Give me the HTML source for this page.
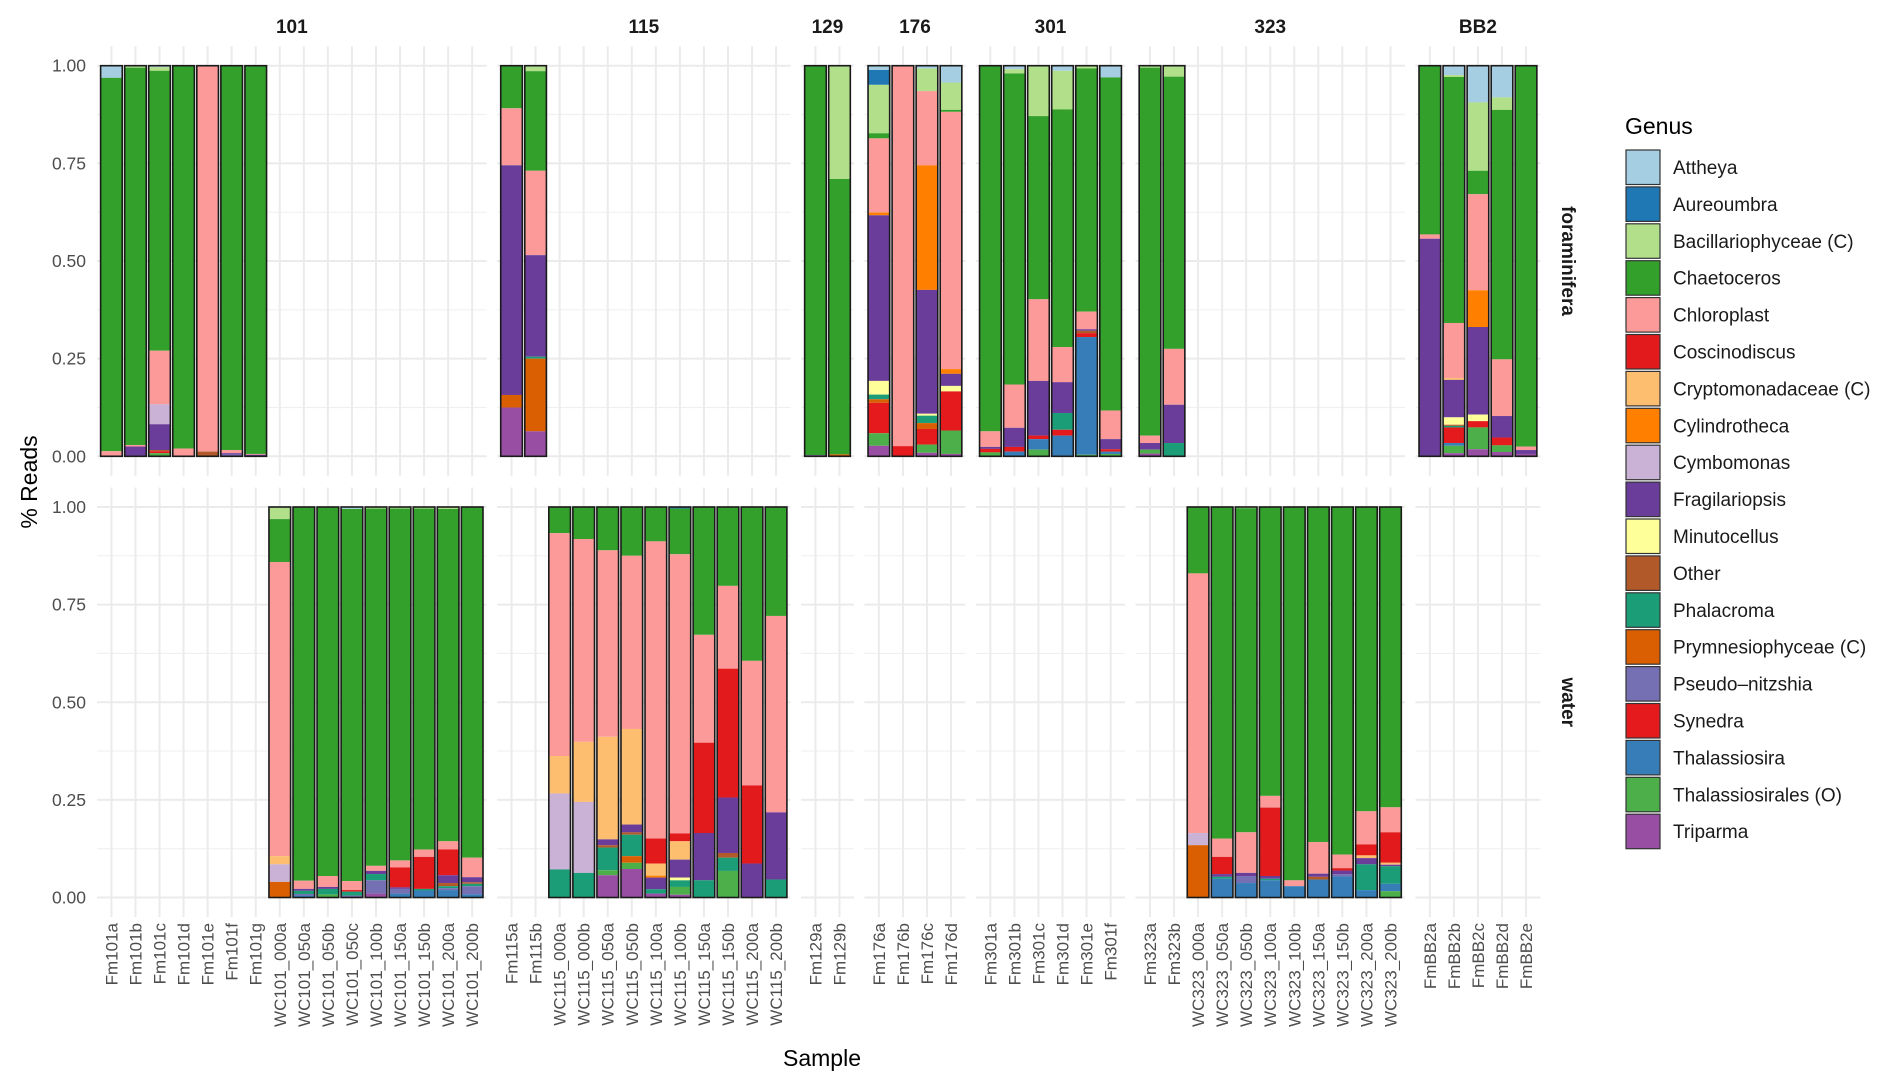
<!DOCTYPE html>
<html><head><meta charset="utf-8"><style>
html,body{margin:0;padding:0;background:#fff;}
svg{display:block;font-family:"Liberation Sans",Arial,sans-serif;}
</style></head>
<body>
<svg id="chart" width="1892" height="1089" xmlns="http://www.w3.org/2000/svg">
<g id="grid"></g>
<g id="bars"></g>
<g id="axes"></g>
<text x="822" y="1066" font-size="23" text-anchor="middle" fill="#000">Sample</text>
<text transform="translate(37,482) rotate(-90)" font-size="23" text-anchor="middle" fill="#000">% Reads</text>
<text x="1625" y="134" font-size="23" fill="#000">Genus</text>
<g id="legend"></g>
</svg>
<script>
const genusNames = ["Attheya","Aureoumbra","Bacillariophyceae (C)","Chaetoceros","Chloroplast","Coscinodiscus","Cryptomonadaceae (C)","Cylindrotheca","Cymbomonas","Fragilariopsis","Minutocellus","Other","Phalacroma","Prymnesiophyceae (C)","Pseudo\u2013nitzshia","Synedra","Thalassiosira","Thalassiosirales (O)","Triparma"];
const genusCodes = ["At","Au","Ba","Ch","Cl","Co","Cr","Cy","Cm","Fr","Mi","Ot","Ph","Pr","Ps","Sy","Th","Ts","Tr"];
const genusColors = ["#a6cee3","#1f78b4","#b2df8a","#33a02c","#fb9a99","#e31a1c","#fdbf6f","#ff7f00","#cab2d6","#6a3d9a","#ffff99","#b15928","#1b9e77","#d95f02","#7570b3","#e41a1c","#377eb8","#4daf4a","#984ea3"];

const panels = ["101","115","129","176","301","323","BB2"];
const panelSamples = [
 ["Fm101a","Fm101b","Fm101c","Fm101d","Fm101e","Fm101f","Fm101g","WC101_000a","WC101_050a","WC101_050b","WC101_050c","WC101_100b","WC101_150a","WC101_150b","WC101_200a","WC101_200b"],
 ["Fm115a","Fm115b","WC115_000a","WC115_000b","WC115_050a","WC115_050b","WC115_100a","WC115_100b","WC115_150a","WC115_150b","WC115_200a","WC115_200b"],
 ["Fm129a","Fm129b"],
 ["Fm176a","Fm176b","Fm176c","Fm176d"],
 ["Fm301a","Fm301b","Fm301c","Fm301d","Fm301e","Fm301f"],
 ["Fm323a","Fm323b","WC323_000a","WC323_050a","WC323_050b","WC323_100a","WC323_100b","WC323_150a","WC323_150b","WC323_200a","WC323_200b"],
 ["FmBB2a","FmBB2b","FmBB2c","FmBB2d","FmBB2e"]
];
const rows = ["foraminifera","water"];
const yTicks = [0,0.25,0.5,0.75,1];
const yTickLabels = ["0.00","0.25","0.50","0.75","1.00"];

// composition per sample: [genusCode, fraction]
const comp = {
 Fm101a:[["At",.031],["Ch",.956],["Cl",.013]],
 Fm101b:[["Ba",.005],["Ch",.966],["Cl",.004],["Fr",.025]],
 Fm101c:[["At",.004],["Ba",.009],["Ch",.716],["Cl",.137],["Cm",.051],["Fr",.066],["Ot",.003],["Sy",.005],["Ts",.008]],
 Fm101d:[["Ch",.98],["Cl",.02]],
 Fm101e:[["Cl",.988],["Ot",.012]],
 Fm101f:[["Ch",.984],["Cl",.008],["Fr",.004],["Ps",.004]],
 Fm101g:[["Ch",.994],["Cl",.002],["Fr",.004]],
 WC101_000a:[["Ba",.031],["Ch",.11],["Cl",.754],["Cr",.021],["Cm",.045],["Pr",.04]],
 WC101_050a:[["Ch",.957],["Cl",.021],["Fr",.005],["Ph",.008],["Ps",.004],["Th",.005]],
 WC101_050b:[["Ch",.945],["Cl",.028],["Fr",.005],["Ph",.014],["Ts",.008]],
 WC101_050c:[["At",.005],["Ch",.953],["Cl",.023],["Co",.004],["Ph",.01],["Ps",.005]],
 WC101_100b:[["Ba",.004],["Ch",.914],["Cl",.013],["Fr",.008],["Ph",.016],["Ps",.034],["Tr",.01]],
 WC101_150a:[["Ba",.004],["Ch",.901],["Cl",.018],["Co",.051],["Fr",.004],["Ps",.012],["Th",.01]],
 WC101_150b:[["Ba",.004],["Ch",.873],["Cl",.019],["Co",.082],["Ph",.004],["Th",.018]],
 WC101_200a:[["Ba",.005],["Ch",.851],["Cl",.021],["Co",.066],["Fr",.02],["Ot",.008],["Ph",.005],["Ps",.005],["Th",.019]],
 WC101_200b:[["Ch",.898],["Cl",.05],["Fr",.013],["Ot",.004],["Ph",.006],["Ps",.021],["Th",.008]],
 Fm115a:[["Ch",.109],["Cl",.146],["Fr",.588],["Pr",.032],["Tr",.125]],
 Fm115b:[["Ba",.014],["Ch",.255],["Cl",.216],["Fr",.26],["Ph",.005],["Pr",.186],["Tr",.064]],
 WC115_000a:[["Ch",.067],["Cl",.572],["Cr",.096],["Cm",.195],["Ph",.072]],
 WC115_000b:[["Ch",.082],["Cl",.52],["Cr",.154],["Cm",.182],["Ph",.063]],
 WC115_050a:[["Ch",.111],["Cl",.478],["Cr",.263],["Fr",.015],["Ot",.006],["Ph",.058],["Ts",.013],["Tr",.057]],
 WC115_050b:[["Ch",.125],["Cl",.444],["Cr",.245],["Fr",.02],["Ot",.006],["Ph",.055],["Pr",.017],["Ts",.016],["Tr",.073]],
 WC115_100a:[["Ch",.088],["Cl",.761],["Co",.064],["Cr",.031],["Cy",.005],["Fr",.03],["Ph",.011],["Tr",.01]],
 WC115_100b:[["Au",.004],["Ch",.117],["Cl",.715],["Co",.02],["Cr",.047],["Fr",.046],["Mi",.007],["Ph",.017],["Ts",.02],["Tr",.007]],
 WC115_150a:[["Ch",.327],["Cl",.276],["Co",.231],["Fr",.121],["Ph",.044]],
 WC115_150b:[["Ch",.202],["Cl",.212],["Co",.33],["Fr",.142],["Ot",.012],["Ph",.034],["Ts",.068]],
 WC115_200a:[["Ch",.394],["Cl",.319],["Co",.2],["Fr",.087]],
 WC115_200b:[["Ch",.279],["Cl",.503],["Fr",.172],["Ph",.046]],
 Fm129a:[["Ch",.997],["Fr",.003]],
 Fm129b:[["Ba",.29],["Ch",.705],["Pr",.005]],
 Fm176a:[["At",.011],["Au",.038],["Ba",.124],["Ch",.013],["Cl",.19],["Cy",.007],["Fr",.424],["Mi",.035],["Ph",.012],["Pr",.009],["Sy",.078],["Ts",.032],["Tr",.027]],
 Fm176b:[["Cl",.974],["Sy",.026]],
 Fm176c:[["At",.007],["Ba",.058],["Cl",.19],["Cy",.319],["Fr",.317],["Mi",.005],["Ph",.019],["Pr",.015],["Sy",.04],["Ts",.021],["Tr",.009]],
 Fm176d:[["At",.043],["Ba",.07],["Ch",.005],["Cl",.658],["Cy",.012],["Fr",.031],["Mi",.014],["Sy",.1],["Ts",.06],["Tr",.006]],
 Fm301a:[["Ch",.936],["Cl",.04],["Fr",.005],["Sy",.009],["Ts",.01]],
 Fm301b:[["At",.009],["Ba",.011],["Ch",.797],["Cl",.111],["Fr",.049],["Sy",.012],["Th",.012]],
 Fm301c:[["Ba",.129],["Ch",.469],["Cl",.209],["Fr",.14],["Sy",.009],["Th",.027],["Ts",.017]],
 Fm301d:[["At",.013],["Ba",.099],["Ch",.609],["Cl",.09],["Fr",.079],["Ph",.043],["Sy",.015],["Th",.053]],
 Fm301e:[["Ba",.007],["Ch",.622],["Cl",.045],["Fr",.004],["Ot",.006],["Sy",.01],["Th",.301],["Ts",.004]],
 Fm301f:[["At",.03],["Ch",.853],["Cl",.073],["Fr",.026],["Sy",.006],["Th",.006],["Ts",.006]],
 Fm323a:[["Ba",.005],["Ch",.942],["Cl",.019],["Fr",.017],["Ts",.01],["Tr",.007]],
 Fm323b:[["Ba",.028],["Ch",.697],["Cl",.143],["Fr",.098],["Ph",.034]],
 WC323_000a:[["Ch",.17],["Cl",.665],["Cm",.031],["Pr",.134]],
 WC323_050a:[["Ch",.849],["Cl",.047],["Co",.044],["Fr",.007],["Ph",.005],["Th",.048]],
 WC323_050b:[["Ba",.003],["Ch",.83],["Cl",.104],["Fr",.008],["Ps",.018],["Th",.037]],
 WC323_100a:[["Ch",.739],["Cl",.03],["Co",.175],["Fr",.007],["Ph",.004],["Th",.044]],
 WC323_100b:[["Ch",.956],["Cl",.015],["Th",.029]],
 WC323_150a:[["Ch",.858],["Cl",.081],["Fr",.008],["Ot",.007],["Th",.046]],
 WC323_150b:[["Ch",.89],["Cl",.035],["Co",.006],["Fr",.009],["Ps",.006],["Th",.054]],
 WC323_200a:[["Ch",.78],["Cl",.085],["Co",.028],["Cr",.007],["Fr",.016],["Ph",.066],["Th",.019]],
 WC323_200b:[["Ch",.769],["Cl",.064],["Co",.078],["Cr",.005],["Fr",.004],["Ph",.045],["Th",.019],["Ts",.016]],
 FmBB2a:[["Ch",.432],["Cl",.011],["Fr",.557]],
 FmBB2b:[["At",.024],["Ba",.005],["Ch",.631],["Cl",.141],["Cr",.005],["Fr",.096],["Mi",.019],["Ot",.003],["Ph",.004],["Sy",.04],["Th",.007],["Ts",.019],["Tr",.008]],
 FmBB2c:[["At",.094],["Ba",.175],["Ch",.06],["Cl",.246],["Cy",.094],["Fr",.224],["Mi",.017],["Sy",.016],["Ts",.056],["Tr",.018]],
 FmBB2d:[["At",.081],["Ba",.032],["Ch",.638],["Cl",.145],["Fr",.055],["Sy",.02],["Ts",.017],["Tr",.011]],
 FmBB2e:[["Ch",.975],["Cl",.009],["Fr",.01],["Tr",.006]]
};

const NS = "http://www.w3.org/2000/svg";
const X0 = 97, U = 24.05, GAP = 10.5;
const rowGeom = [{top:46.2, bottom:475.8, y0:456.3, h:390.6},{top:487.5, bottom:917, y0:897.5, h:390.5}];
function yScale(r, v){ return rowGeom[r].y0 - v*rowGeom[r].h; }
function mk(tag, attrs, parent){ const e=document.createElementNS(NS,tag); for(const k in attrs) e.setAttribute(k,attrs[k]); parent.appendChild(e); return e; }

const grid = document.getElementById('grid');
const bars = document.getElementById('bars');
const axes = document.getElementById('axes');

let px = X0;
panels.forEach((p, pi) => {
  const samples = panelSamples[pi];
  const w = (samples.length + 0.2) * U;
  const left = px;
  const xc = i => left + (0.6 + i) * U;
  const st = mk('text', {x:left + w/2, y:33, 'font-size':19, 'font-weight':'bold', 'text-anchor':'middle', fill:'#1a1a1a'}, axes);
  
  
  st.textContent = p;
  rows.forEach((rn, r) => {
    const g = rowGeom[r];
    [0.125,0.375,0.625,0.875].forEach(v => {
      const l = mk('line', {x1:left, x2:left+w, y1:yScale(r,v), y2:yScale(r,v), stroke:'#f0f0f0', 'stroke-width':1.2}, grid);
      
      
    });
    yTicks.forEach(v => {
      const l = mk('line', {x1:left, x2:left+w, y1:yScale(r,v), y2:yScale(r,v), stroke:'#ebebeb', 'stroke-width':2}, grid);
      
      
    });
    samples.forEach((s, i) => {
      const l = mk('line', {x1:xc(i), x2:xc(i), y1:g.top, y2:g.bottom, stroke:'#ebebeb', 'stroke-width':2}, grid);
      
      
    });
    samples.forEach((s, i) => {
      const isFm = s.startsWith('Fm');
      if ((r === 0) !== isFm) return;
      const segs = comp[s]; if (!segs) return;
      const total = segs.reduce((a, b) => a + b[1], 0);
      const bg = mk('g', {}, bars);
      
      
      const bx = xc(i) - 0.45*U, bw = 0.9*U;
      let cum = 1;
      segs.slice().sort((a,b)=>genusCodes.indexOf(a[0])-genusCodes.indexOf(b[0])).forEach(([code, val]) => {
        const v = val / total;
        const yTop = yScale(r, cum), yBot = yScale(r, cum - v);
        const rect = mk('rect', {x:bx, y:yTop, width:bw, height:Math.max(0, yBot - yTop), fill:genusColors[genusCodes.indexOf(code)]}, bg);
        
        
        cum -= v;
      });
      const o = mk('rect', {x:bx, y:yScale(r,1), width:bw, height:yScale(r,0)-yScale(r,1), fill:'none', stroke:'#1a1a1a', 'stroke-width':1.6}, bg);
      
      
    });
  });
  samples.forEach((s, i) => {
    const t = mk('text', {transform:`translate(${xc(i)+6},923) rotate(-90)`, 'font-size':17, 'text-anchor':'end', fill:'#4d4d4d'}, axes);
    
    
    t.textContent = s;
  });
  px += w + GAP;
});

rows.forEach((rn, r) => {
  yTicks.forEach((v, k) => {
    const t = mk('text', {x:86, y:yScale(r,v)+6, 'font-size':17.5, 'text-anchor':'end', fill:'#4d4d4d'}, axes);
    
    
    t.textContent = yTickLabels[k];
  });
  const g = rowGeom[r];
  const t = mk('text', {transform:`translate(1562,${(g.top+g.bottom)/2}) rotate(90)`, 'font-size':19, 'font-weight':'bold', 'text-anchor':'middle', fill:'#1a1a1a'}, axes);
  
  
  t.textContent = rn;
});

const leg = document.getElementById('legend');
genusNames.forEach((n, i) => {
  const y = 150 + i*36.9;
  const g = mk('g', {}, leg);
  
  
  const r = mk('rect', {x:1626, y:y, width:34, height:34.5, fill:genusColors[i], stroke:'#333', 'stroke-width':1.2}, g);
  
  
  const t = mk('text', {x:1673, y:y+24, 'font-size':19, fill:'#1a1a1a'}, g);
  
  
  t.textContent = n;
});
</script>
</body></html>
